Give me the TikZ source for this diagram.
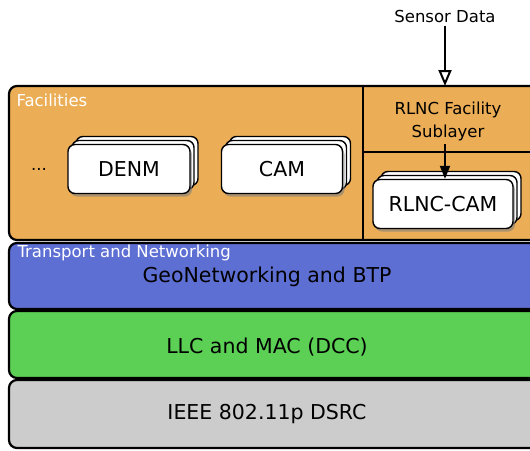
\documentclass[tikz,border=0pt]{standalone}
\usepackage{fontspec}
\setmainfont{DejaVu Sans}
\usetikzlibrary{shadows,arrows.meta}
\definecolor{facil}{RGB}{235,173,85}
\definecolor{transp}{RGB}{94,111,212}
\definecolor{llcgreen}{RGB}{91,208,84}
\definecolor{phygray}{RGB}{204,204,204}

\begin{document}
\begin{tikzpicture}[x=1pt, y=-1pt,
    layer/.style={draw=black, line width=2.2pt, rounded corners=8pt},
    big/.style={font=\fontsize{20.5}{24}\selectfont},
    small/.style={font=\fontsize{16.5}{23}\selectfont},
    msgbox/.style={draw=black, line width=1.4pt, fill=white, rounded corners=7pt,
        minimum height=49pt, big,
        copy shadow={shadow xshift=8pt, shadow yshift=8pt},
        copy shadow={shadow xshift=4pt, shadow yshift=4pt},
        drop shadow={shadow xshift=2pt, shadow yshift=-3pt, opacity=0.6}}]
    \clip (0,0) rectangle (530,450);

    % Layers
    \draw[layer, fill=facil] (9,86) rectangle (540,240);
    \draw[line width=2.2pt] (363,86) -- (363,240);
    \draw[line width=2.2pt] (363,152) -- (540,152);
    \draw[layer, fill=transp] (9,243) rectangle (540,309);
    \draw[layer, fill=llcgreen] (9,311) rectangle (540,378);
    \draw[layer, fill=phygray] (9,380) rectangle (540,448);

    % Layer labels
    \node[small, white, anchor=west] (facilities) at (13,100) {Facilities};
    \node[small, white, anchor=west] (transport) at (14,253) {Transport and Networking};
    \node[big] (geo) at (267,277) {GeoNetworking and BTP};
    \node[big] (llc) at (267,347) {LLC and MAC (DCC)};
    \node[big] (phy) at (267,414) {IEEE 802.11p DSRC};

    % Messages
    \node[small] (dots) at (39,169) {...};
    \node[msgbox, minimum width=122pt] (denm) at (129,169) {DENM};
    \node[msgbox, minimum width=121pt] (cam) at (282,169) {CAM};
    \node[msgbox, minimum width=140pt] (rlnccam) at (443,204) {RLNC-CAM};

    % RLNC sublayer
    \node[small, align=center] (sublayer) at (448,121) {RLNC Facility\\Sublayer};
    \node[small] (sensor) at (445,16) {Sensor Data};
    \coordinate (sensorin) at (445,86);
    \coordinate (subout) at (445,144);
    \draw[line width=2pt, -{Triangle[open, length=16pt, width=13pt, fill=white]}] (sensor) -- (sensorin);
    \draw[line width=2pt, -{Triangle[length=13pt, width=10pt]}] (subout) -- (rlnccam.north -| subout);
\end{tikzpicture}
\end{document}
